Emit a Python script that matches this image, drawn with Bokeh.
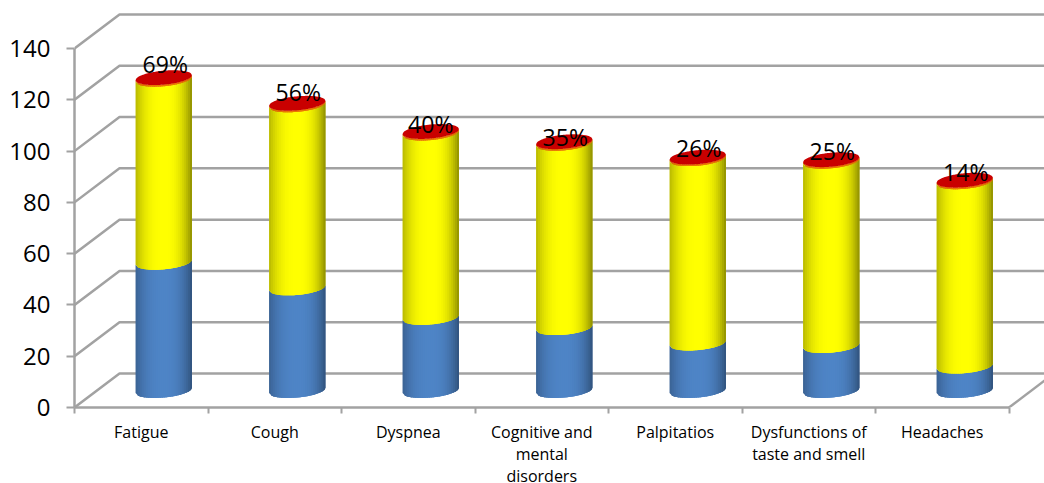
import math
from bokeh.core.properties import value
from bokeh.embed import file_html
from bokeh.models import FixedTicker, LinearAxis, Range1d
from bokeh.plotting import figure
from bokeh.resources import INLINE

categories = ["Fatigue", "Cough", "Dyspnea", "Cognitive and\nmental\ndisorders",
              "Palpitatios", "Dysfunctions of\ntaste and smell", "Headaches"]
blue_values = [50, 40, 28.5, 24.5, 18.5, 17.5, 9.5]
yellow_values = [71.4, 71.4, 71.9, 71.9, 71.9, 71.9, 71.9]
red_values = [0.6, 0.6, 0.6, 0.6, 0.6, 0.6, 0.6]
percent_labels = ["69%", "56%", "40%", "35%", "26%", "25%", "14%"]
y_ticks = [0, 20, 40, 60, 80, 100, 120, 140]

# Frame placement and the fake 3D projection, in screen pixels
FRAME_W, FRAME_H = 970, 397
PX_X = 133.5          # pixels per category slot
PX_Y = 359 / 140      # pixels per value unit
DEPTH_X, DEPTH_Y = 45 / PX_X, 34 / PX_Y
RADIUS = 28.2 / PX_X
MINOR = 7.0 / PX_Y
TILT = 2.5 / PX_Y
STRIPS = 28
STRIP_OVERLAP = 0.12
label_lift_px = [14, 11, 8, 5, 9, 9, 8]
label_shift_px = [1.5, 1, 0, 1, 1, 1, 1]

GRID = "#a2a2a2"
FONT = "Open Sans"

p = figure(width=1044, height=483, frame_width=FRAME_W, frame_height=FRAME_H,
           x_range=Range1d(0, FRAME_W / PX_X), y_range=Range1d(0, FRAME_H / PX_Y),
           output_backend="svg", toolbar_location=None,
           min_border_left=74, min_border_right=0, min_border_top=10, min_border_bottom=76,
           x_axis_type=None, y_axis_type=None, outline_line_color=None)
p.grid.visible = False

# Side and back wall gridlines
for v in y_ticks:
    p.line([0, DEPTH_X, FRAME_W / PX_X + 1], [v, v + DEPTH_Y, v + DEPTH_Y],
           line_color=GRID, line_width=2.5)
p.line([len(categories), len(categories) + DEPTH_X], [0, DEPTH_Y], line_color=GRID, line_width=2.5)


def shade(rgb, u, left, right):
    edge = left if u < 0 else right
    f = 1 - (1 - edge) * abs(u) ** 2.6
    return "#%02x%02x%02x" % tuple(round(c * f) for c in rgb)


def front_arc(u):
    # vertical offset of the front rim of the tilted ellipse
    return -MINOR * math.sqrt(max(0.0, 1 - u * u)) + TILT * u


def draw_segment(cx, bottom, top, rgb, left, right):
    xs, ys, colors = [], [], []
    for i in range(STRIPS):
        u0 = -1 + 2 * i / STRIPS
        u1 = min(-1 + 2 * (i + 1) / STRIPS + STRIP_OVERLAP, 1.0)
        um = u0 + 1 / STRIPS
        x0, x1 = cx + RADIUS * u0, cx + RADIUS * u1
        # each strip runs under the next one, so no seams show between them
        us = [u0, (u0 + u1) / 2, u1]
        xs.append([cx + RADIUS * u for u in us] + [x1, (x0 + x1) / 2, x0])
        ys.append([bottom + front_arc(u) for u in us] + [top + front_arc(u) for u in reversed(us)])
        colors.append(shade(rgb, um, left, right))
    p.patches(xs, ys, fill_color=colors, line_color=None)


def draw_cap(cx, level, color):
    us = [-1 + 2 * i / 60 for i in range(61)]
    xs = [cx + RADIUS * u for u in us] + [cx + RADIUS * u for u in reversed(us)]
    ys = [level + front_arc(u) for u in us] + \
         [level + MINOR * math.sqrt(max(0.0, 1 - u * u)) + TILT * u for u in reversed(us)]
    p.patch(xs, ys, fill_color=color, line_color=None)


# Stacked cylinders: blue, yellow, a thin red slice and its lid
for i, _ in enumerate(categories):
    cx = i + 0.5 + DEPTH_X / 2
    base = DEPTH_Y / 2
    b = base + blue_values[i]
    y = b + yellow_values[i]
    r = y + red_values[i]
    draw_segment(cx, base, b, (78, 132, 198), 0.74, 0.62)
    draw_segment(cx, b, y, (255, 255, 0), 0.72, 0.55)
    draw_segment(cx, y, r, (235, 120, 0), 0.9, 0.9)
    draw_cap(cx, r, "#c90000")

# Percentage labels sit just above each lid
label_x = [i + 0.5 + DEPTH_X / 2 + label_shift_px[i] / PX_X for i in range(len(categories))]
label_y = [DEPTH_Y / 2 + blue_values[i] + yellow_values[i] + red_values[i] + label_lift_px[i] / PX_Y
           for i in range(len(categories))]
p.text(label_x, label_y, text=percent_labels, text_align="center", text_baseline="middle",
       text_font=value(FONT), text_font_size="23px", text_color="#000000")

left_axis = LinearAxis(ticker=FixedTicker(ticks=y_ticks), bounds=(0, 140))
left_axis.axis_line_color = GRID
left_axis.axis_line_width = 2.5
left_axis.major_tick_line_color = GRID
left_axis.major_tick_line_width = 2
left_axis.major_tick_in = 0
left_axis.major_tick_out = 8
left_axis.minor_tick_line_color = None
left_axis.major_label_standoff = 16
left_axis.major_label_text_font = FONT
left_axis.major_label_text_font_size = "24px"
left_axis.major_label_text_color = "#000000"
p.add_layout(left_axis, "left")

centers = [i + 0.5 for i in range(len(categories))]
bottom_axis = LinearAxis(
    ticker=FixedTicker(ticks=centers, minor_ticks=list(range(len(categories) + 1))),
    bounds=(0, len(categories)),
    major_label_overrides={c: n for c, n in zip(centers, categories)},
)
bottom_axis.axis_line_color = GRID
bottom_axis.axis_line_width = 2.5
bottom_axis.major_tick_line_color = None
bottom_axis.major_tick_in = 0
bottom_axis.major_tick_out = 0
bottom_axis.minor_tick_line_color = GRID
bottom_axis.minor_tick_line_width = 2
bottom_axis.minor_tick_in = 0
bottom_axis.minor_tick_out = 6
bottom_axis.major_label_standoff = 7
bottom_axis.major_label_text_font = FONT
bottom_axis.major_label_text_font_size = "16px"
bottom_axis.major_label_text_color = "#000000"
bottom_axis.major_label_text_line_height = 1.0
p.add_layout(bottom_axis, "below")

open("out.html", "w").write(file_html(p, INLINE))
